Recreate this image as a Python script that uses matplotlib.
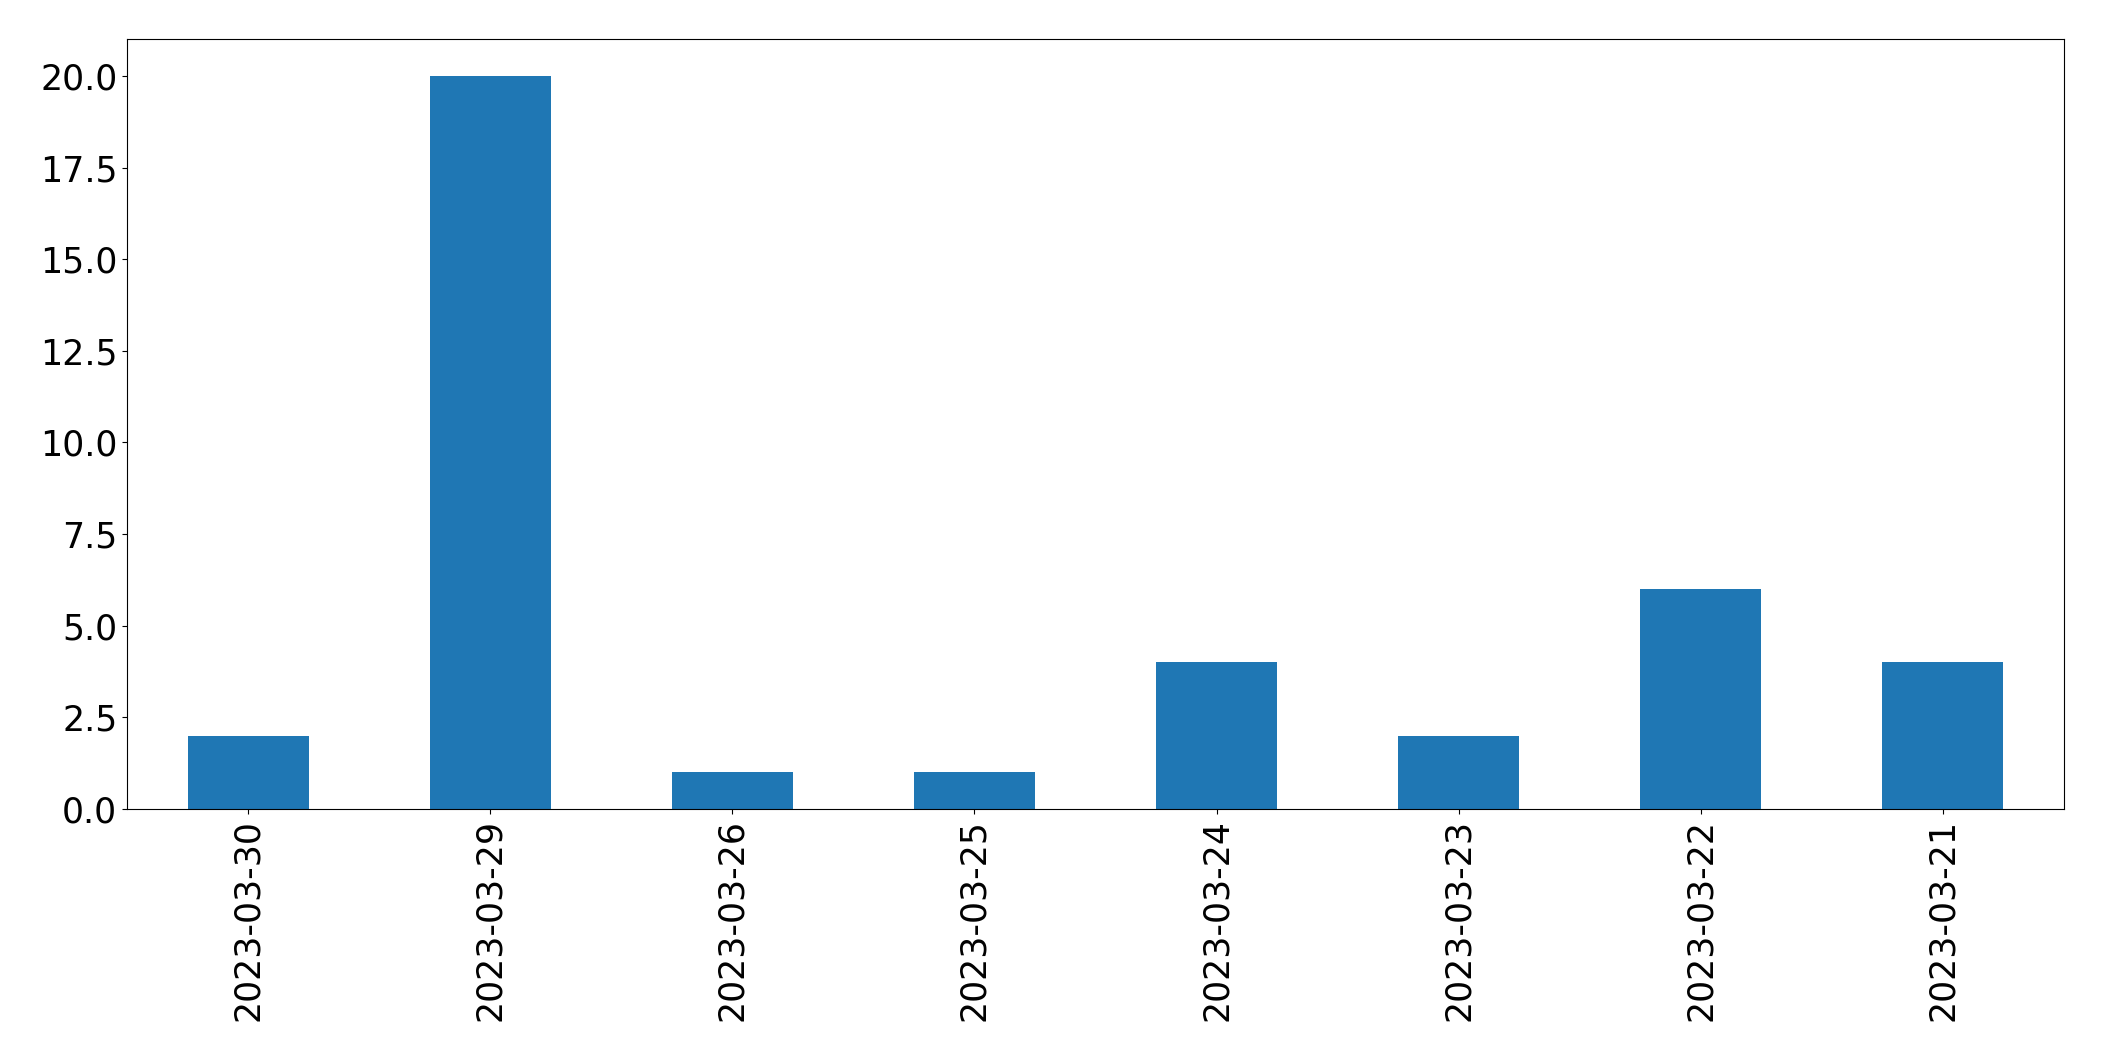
import matplotlib
matplotlib.use("Agg")
import matplotlib.pyplot as plt
import numpy as np

dates = ["2023-03-30", "2023-03-29", "2023-03-26", "2023-03-25",
         "2023-03-24", "2023-03-23", "2023-03-22", "2023-03-21"]
counts = [2, 20, 1, 1, 4, 2, 6, 4]

fig = plt.figure(figsize=(21.04, 10.61), dpi=100)
ax = fig.add_axes([0.0604, 0.2375, 0.9206, 0.7255])

x = np.arange(len(dates))
ax.bar(x, counts, width=0.5, color="#1f77b4")
ax.set_xticks(x)
ax.set_xticklabels(dates, rotation=90)
ax.set_xlim(-0.5, len(dates) - 0.5)
ax.tick_params(axis="both", labelsize=25)

fig.savefig("out.png", dpi=100)
